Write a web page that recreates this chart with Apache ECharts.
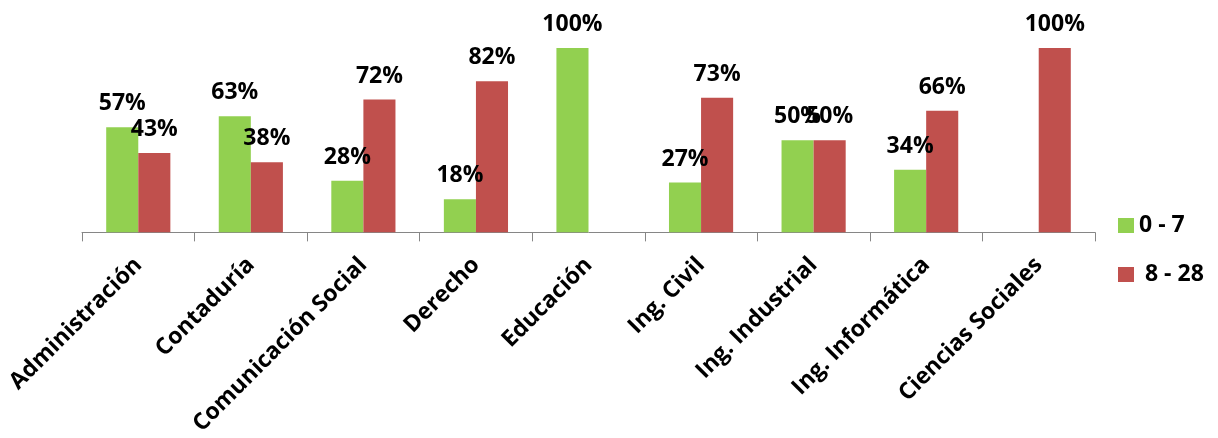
<!DOCTYPE html>
<html>
<head>
<meta charset="utf-8">
<style>
  html, body { margin: 0; padding: 0; background: #ffffff; }
  #chart { width: 1218px; height: 438px; }
</style>
<script src="https://cdn.jsdelivr.net/npm/echarts@6/dist/echarts.min.js"></script>
</head>
<body>
<div id="chart"></div>
<script>
// Careers on the category axis
const careers = [
  'Administración', 'Contaduría', 'Comunicación Social', 'Derecho', 'Educación',
  'Ing. Civil', 'Ing. Industrial', 'Ing. Informática', 'Ciencias Sociales'
];

// Share (%) of each group per career; null where the group has no bar
const group0to7 = [57, 63, 28, 18, 100, 27, 50, 34, null];
const group8to28 = [43, 38, 72, 82, null, 73, 50, 66, 100];

const seriesNames = ['0 - 7', '8 - 28'];
const seriesColors = ['#92D050', '#C0504D'];

const fontFamily = '"Open Sans", Lato, sans-serif';

const chart = echarts.init(document.getElementById('chart'), null, { renderer: 'canvas' });

const valueLabel = {
  show: true,
  position: 'top',
  distance: 12,
  color: '#000000',
  fontFamily: fontFamily,
  fontWeight: 'bold',
  fontSize: 23,
  formatter: p => p.value + '%'
};

chart.setOption({
  animation: false,
  backgroundColor: '#ffffff',
  grid: { left: 82, right: 123, top: 48, bottom: 203.5, containLabel: false },
  legend: {
    orient: 'vertical',
    left: 1113,
    top: 209,
    itemWidth: 16,
    itemHeight: 15,
    itemGap: 26,
    icon: 'rect',
    textStyle: { fontFamily: fontFamily, fontWeight: 'bold', fontSize: 23, color: '#000000' },
    formatter: name => (name === seriesNames[1] ? ' ' + name : name),
    data: seriesNames
  },
  xAxis: {
    type: 'category',
    data: careers,
    boundaryGap: true,
    axisLine: { lineStyle: { color: '#868686', width: 1 } },
    axisTick: { show: true, length: 9, lineStyle: { color: '#868686' } },
    axisLabel: {
      rotate: 45,
      interval: 0,
      margin: 29,
      color: '#000000',
      fontFamily: fontFamily,
      fontWeight: 'bold',
      fontSize: 23
    }
  },
  yAxis: {
    type: 'value',
    min: 0,
    max: 100,
    show: false
  },
  series: [
    {
      name: seriesNames[0],
      type: 'bar',
      data: group0to7,
      barGap: '0%',
      barCategoryGap: '43%',
      itemStyle: { color: seriesColors[0] },
      label: valueLabel
    },
    {
      name: seriesNames[1],
      type: 'bar',
      data: group8to28,
      barGap: '0%',
      barCategoryGap: '43%',
      itemStyle: { color: seriesColors[1] },
      label: valueLabel
    }
  ]
});
</script>
</body>
</html>
